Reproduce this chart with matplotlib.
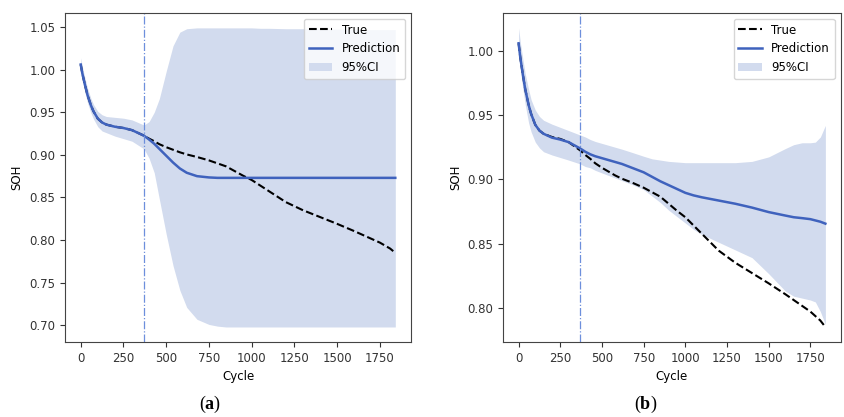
import numpy as np
import matplotlib
matplotlib.use("Agg")
import matplotlib.pyplot as plt

plt.rcParams["font.size"] = 8.5
plt.rcParams["mathtext.fontset"] = "custom"
plt.rcParams["mathtext.bf"] = "Liberation Serif:bold"

# cycle grid shared by every series
cycle = [0, 10, 25, 40, 50, 60, 75, 100, 125, 150,
         200, 250, 300, 370, 400, 430, 460, 500,
         540, 580, 620, 680, 750, 800, 850, 900, 950, 1000, 1050, 1100,
         1200, 1300, 1400, 1500, 1600, 1650, 1700, 1750, 1780, 1810, 1840]

soh_true = [1.006, 0.995, 0.982, 0.970, 0.964, 0.958, 0.951, 0.9425, 0.938, 0.9355,
            0.933, 0.9315, 0.929, 0.9225, 0.919, 0.916, 0.9125, 0.909,
            0.906, 0.903, 0.9005, 0.8975, 0.8935, 0.890, 0.8865, 0.881,
            0.8755, 0.8705, 0.864, 0.8575,
            0.8445, 0.835, 0.827, 0.819, 0.8105, 0.806, 0.8015, 0.797,
            0.7935, 0.790, 0.785]

# (a)
pred_a = [1.006, 0.995, 0.982, 0.970, 0.964, 0.958, 0.951, 0.9425, 0.938, 0.9355,
          0.933, 0.9315, 0.929, 0.9225, 0.918, 0.913, 0.907, 0.899,
          0.891, 0.884, 0.879, 0.875, 0.8735, 0.873, 0.873, 0.873,
          0.873, 0.873, 0.873, 0.873,
          0.873, 0.873, 0.873, 0.873, 0.873, 0.873, 0.873, 0.873,
          0.873, 0.873, 0.873]
upper_a = [1.014, 1.003, 0.990, 0.978, 0.972, 0.966, 0.959, 0.951, 0.947, 0.945,
           0.944, 0.943, 0.941, 0.935, 0.939, 0.950, 0.966, 0.998,
           1.028, 1.044, 1.048, 1.049, 1.049, 1.049, 1.049, 1.049,
           1.049, 1.049, 1.0485, 1.0485,
           1.048, 1.048, 1.048, 1.0475, 1.0475, 1.047, 1.047, 1.047,
           1.047, 1.047, 1.047]
lower_a = [0.999, 0.987, 0.973, 0.961, 0.955, 0.949, 0.942, 0.933, 0.928, 0.926,
           0.922, 0.919, 0.916, 0.907, 0.896, 0.879, 0.848, 0.807,
           0.770, 0.741, 0.721, 0.707, 0.701, 0.699, 0.698, 0.698,
           0.698, 0.698, 0.698, 0.698,
           0.698, 0.698, 0.698, 0.698, 0.698, 0.698, 0.698, 0.698,
           0.698, 0.698, 0.698]

# (b)
pred_b = [1.006, 0.995, 0.982, 0.970, 0.964, 0.958, 0.951, 0.9425, 0.938, 0.9355,
          0.9325, 0.931, 0.929, 0.924, 0.9215, 0.9195, 0.918, 0.9165,
          0.915, 0.9135, 0.912, 0.909, 0.9055, 0.902, 0.8985, 0.8955,
          0.8925, 0.8895, 0.8875, 0.886,
          0.8835, 0.881, 0.878, 0.8745, 0.8718, 0.8705, 0.8698, 0.869,
          0.868, 0.867, 0.8655]
upper_b = [1.018, 1.007, 0.994, 0.982, 0.976, 0.970, 0.962, 0.954, 0.949, 0.946,
           0.943, 0.9405, 0.938, 0.9345, 0.933, 0.931, 0.9295, 0.928,
           0.9265, 0.925, 0.9235, 0.921, 0.918, 0.916, 0.915, 0.914,
           0.9135, 0.913, 0.913, 0.913,
           0.913, 0.913, 0.914, 0.9175, 0.924, 0.927, 0.9285, 0.9285,
           0.929, 0.933, 0.942]
lower_b = [0.999, 0.986, 0.971, 0.958, 0.951, 0.944, 0.937, 0.929, 0.9245, 0.9215,
           0.919, 0.917, 0.915, 0.912, 0.910, 0.909, 0.907, 0.905,
           0.903, 0.901, 0.899, 0.896, 0.892, 0.887, 0.882, 0.876,
           0.871, 0.866, 0.861, 0.857,
           0.851, 0.845, 0.839, 0.8265, 0.813, 0.809, 0.8075, 0.806,
           0.8045, 0.797, 0.787]

split_cycle = 368

line_col = "#3f62bd"
band_col = "#d2dbee"
split_col = "#6d8fdc"

fig = plt.figure(figsize=(8.44, 4.17), dpi=100)
ax_a = fig.add_axes([0.077, 0.180, 0.410, 0.789])
ax_b = fig.add_axes([0.5963, 0.180, 0.3998, 0.789])

for ax, pred, lo, hi in [(ax_a, pred_a, lower_a, upper_a),
                         (ax_b, pred_b, lower_b, upper_b)]:
    ax.plot(cycle, soh_true, "k--", lw=1.5, label="True")
    ax.plot(cycle, pred, color=line_col, lw=1.8, label="Prediction")
    ax.fill_between(cycle, lo, hi, color=band_col, lw=0, label="95%CI")
    ax.axvline(split_cycle, color=split_col, ls="-.", lw=0.9)
    ax.set_xticks([0, 250, 500, 750, 1000, 1250, 1500, 1750])
    ax.set_xlabel("Cycle")
    ax.set_ylabel("SOH")
    for s in ax.spines.values():
        s.set_color("#444444")
    ax.tick_params(colors="#333333", length=3.5)
    ax.legend(loc="upper right", fontsize=8.5)

ax_a.set_yticks([0.70, 0.75, 0.80, 0.85, 0.90, 0.95, 1.00, 1.05])
ax_b.set_yticks([0.80, 0.85, 0.90, 0.95, 1.00])

fig.text(0.249, 0.03, r"($\mathbf{a}$)", ha="center", va="center",
         family="Liberation Serif", fontsize=13)
fig.text(0.765, 0.03, r"($\mathbf{b}$)", ha="center", va="center",
         family="Liberation Serif", fontsize=13)

fig.savefig("out.png", dpi=100)
